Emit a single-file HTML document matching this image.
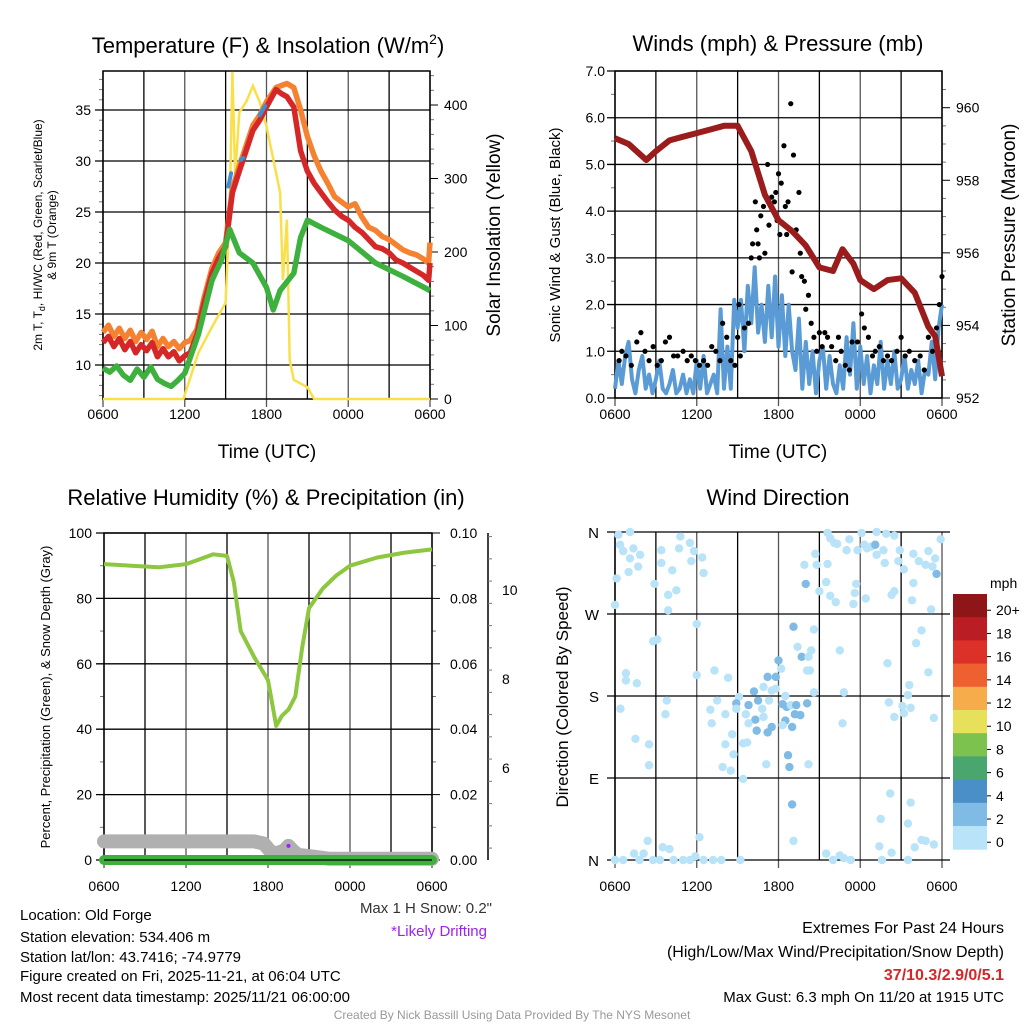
<!DOCTYPE html>
<html><head><meta charset="utf-8">
<style>
html,body{margin:0;padding:0;background:#fff;}
svg{display:block;font-family:"Liberation Sans",sans-serif;}
</style></head>
<body>
<svg id="c" width="1024" height="1024" viewBox="0 0 1024 1024" xmlns="http://www.w3.org/2000/svg">
<rect x="0" y="0" width="1024" height="1024" fill="#fff"/>
<text x="268" y="53" font-size="22" text-anchor="middle">Temperature (F) &amp; Insolation (W/m<tspan dy="-9" font-size="14">2</tspan><tspan dy="9">)</tspan></text>
<text x="778" y="51" font-size="22" text-anchor="middle">Winds (mph) &amp; Pressure (mb)</text>
<text x="266" y="505" font-size="22" text-anchor="middle">Relative Humidity (%) &amp; Precipitation (in)</text>
<text x="778" y="505" font-size="22" text-anchor="middle">Wind Direction</text>
<g id="layer"></g>
<g font-size="15">
<text x="20" y="920">Location: Old Forge</text>
<text x="20" y="942">Station elevation: 534.406 m</text>
<text x="20" y="962">Station lat/lon: 43.7416; -74.9779</text>
<text x="20" y="981">Figure created on Fri, 2025-11-21, at 06:04 UTC</text>
<text x="20" y="1002">Most recent data timestamp: 2025/11/21 06:00:00</text>
</g>
<text x="492" y="913" font-size="15" fill="#333" text-anchor="end">Max 1 H Snow: 0.2"</text>
<text x="487" y="936" font-size="15" fill="#a020f0" text-anchor="end">*Likely Drifting</text>
<g font-size="16" text-anchor="end">
<text x="1004" y="933">Extremes For Past 24 Hours</text>
<text x="1004" y="957">(High/Low/Max Wind/Precipitation/Snow Depth)</text>
<text x="1004" y="980" fill="#d62728" font-weight="bold">37/10.3/2.9/0/5.1</text>
<text x="1004" y="1002" font-size="15">Max Gust: 6.3 mph On 11/20 at 1915 UTC</text>
</g>
<text x="512" y="1019" font-size="12" fill="#999" text-anchor="middle">Created By Nick Bassill Using Data Provided By The NYS Mesonet</text>
</svg>
<script>
const timeTickLabels = ["0600","1200","1800","0000","0600"];
const tempTicks = [10,15,20,25,30,35];
const solarTicks = [0,100,200,300,400];
const windTicks = [0,1,2,3,4,5,6,7];
const presTicks = [952,954,956,958,960];
const rhTicks = [0,20,40,60,80,100];
const precipTicks = [0,0.02,0.04,0.06,0.08,0.10];
const snowTicks = [6,8,10];
const dirLabels = ["N","E","S","W","N"];

const tH = [0,0.4,0.8,1.2,1.6,2.0,2.4,2.8,3.2,3.6,4.0,4.4,4.8,5.2,5.6,6.0,6.4,6.9,7.4,8,8.5,9,9.5,10,10.5,11,11.5,12,12.7,13.1,13.5,14,14.5,15,15.5,16,16.5,17,17.5,18,18.5,19,19.5,20,20.5,21,21.5,22,22.5,23,23.5,23.9,24];
const tempRed = [12.2,12.8,11.8,12.6,11.5,12.3,11.2,12.0,11.4,12.2,10.8,11.6,10.8,11.3,10.4,10.9,11.2,13,16,19,20.5,21.6,26.9,29,31,33,34,35.3,37,36.6,36.3,35.3,31,29,27.8,26.9,26,25.2,24.6,24.2,23.5,23,22.3,21.6,21.4,21,20.3,20,19.6,19.2,18.8,18.3,20];
const tempOrange = [13.2,13.9,12.8,13.6,12.6,13.4,12.3,13.2,12.5,13.3,11.8,12.6,11.8,12.3,11.6,12.2,12.4,13.5,16.5,19.5,21,22,27.3,29.5,31.5,33.5,34.5,35.8,37.2,37.4,37.6,37.2,35,32.4,30.5,29,27.8,26.5,26,25.5,25.8,24.5,23.5,23.2,22.6,22.3,21.8,21.3,21,20.8,20.4,20,22];
const dewH = [0,0.5,1,1.5,2,2.5,3,3.5,4,4.5,5,5.5,6,7,8,8.7,9.3,10,11,12,12.5,13,14,14.5,15,16,18,20,22,24];
const dewGreen = [9.7,9.3,9.9,9.0,8.5,9.6,8.8,9.8,8.6,8.2,7.9,8.5,9.2,13,18.3,20.3,23.3,21,20,17.6,15.4,17.3,19,22.5,24.2,23.5,22.2,20,18.7,17.3];
const solH = [0,5.9,7,8,9,9.3,9.5,9.7,10,10.5,11,11.5,12,13,13.2,13.5,13.7,14,15,15.5,24];
const solar = [0,0,63,98,131,260,445,303,390,404,426,404,371,281,162,244,53,26,16,0,0];
const wcH = [9.2,9.4,10.1,10.3,11.5,11.9];
const wcVal = [27.5,28.8,30.1,30.3,34.5,35.4];

const presH = [0,1,2.3,3,4,5,6,7,8,9,10,11,12,13,14,15,16,16.7,17.5,18,19,20,21,22,23,23.5,24];
const pressure = [959.16,959.0,958.56,958.8,959.1,959.2,959.3,959.4,959.5,959.5,958.8,957.6,956.9,956.6,956.2,955.6,955.5,956.1,955.7,955.25,955.0,955.25,955.3,954.9,953.96,953.7,952.6];
const windSpeed = [0.2,0.8,0.3,0.9,1.2,0.4,0.1,0.6,0.9,0.2,0.5,0.1,0.4,0.8,0.2,0.1,0.3,0.6,0.1,0.2,0.5,0.1,
0.4,0.1,0.8,0.2,0.9,0.1,0.3,0.5,0.1,1.9,0.2,1.1,0.2,2.1,
1.5,2.1,1.0,2.4,1.6,2.8,1.4,2.0,1.2,2.4,1.3,2.6,1.1,2.2,0.9,2.0,
1.0,0.6,1.7,0.2,1.2,0.3,1.0,0.1,0.8,1.1,0.2,0.9,0.3,0.1,0.7,0.2,
1.3,0.5,1.6,0.2,1.1,0.3,0.9,0.1,0.7,0.3,1.2,0.2,0.8,0.3,1.0,0.2,
0.4,0.9,0.2,0.6,0.3,0.8,0.1,0.6,0.5,1.2,0.4,1.5,2.0];
const gustH = [0.3,0.5,0.8,1.2,1.6,1.9,2.2,2.5,2.8,3.1,3.4,3.7,4.0,4.3,4.6,5.0,5.3,5.6,5.9,6.2,6.5,6.8,7.1,7.4,7.7,7.9,8.2,8.5,8.8,9.0,9.1,9.2,9.5,9.8,
10.0,10.1,10.3,10.4,10.5,10.6,10.7,10.9,11.0,11.2,11.3,11.5,11.7,11.8,11.9,12.0,12.1,12.2,12.4,12.5,12.6,12.7,12.9,13.0,13.1,13.3,13.5,13.6,13.7,13.9,14.0,14.2,14.4,14.6,14.8,15.0,15.2,15.4,15.6,15.9,16.2,16.4,16.6,16.9,17.2,17.4,17.8,18.1,18.3,18.6,18.9,19.1,19.4,19.7,20.0,20.3,20.7,21.0,21.3,21.6,22.0,22.4,22.7,23.0,23.3,23.6,23.8,24.0];
const gustVal = [0.8,1.0,0.9,0.7,1.2,1.4,1.0,0.8,1.1,0.7,0.8,1.2,1.3,0.9,0.9,1.0,0.8,0.9,0.8,0.7,0.8,0.7,1.1,1.0,0.8,1.6,1.3,0.8,0.7,1.3,2.0,0.9,1.5,1.6,
3.0,3.3,4.2,3.6,3.3,3.0,3.9,4.1,3.1,5.0,3.7,4.3,4.2,4.4,3.8,4.8,3.5,4.6,5.4,4.1,3.5,4.2,6.3,2.7,5.2,3.6,4.4,3.1,2.6,2.5,1.9,2.2,1.6,1.3,1.0,1.4,1.1,1.4,1.3,1.1,0.8,1.3,1.0,0.7,0.6,1.2,1.2,1.8,1.5,1.3,0.9,1.0,1.1,0.8,0.9,0.8,1.0,1.3,0.9,1.0,0.8,0.9,0.6,1.3,1.0,1.5,2.0,2.6];

const rhH = [0,2,4,6,7,8,9,9.5,10,11,12,12.6,13,13.5,14,14.5,15,16,17,18,20,22,24];
const rh = [90.5,90,89.5,90.5,92,93.5,93,85,70,62,55,41,44,46,50,65,77,83,87,90,92.5,94,95];
const snowH = [0,11,11.7,12.3,12.8,13.2,13.5,13.8,14.2,15.5,16.5,24];
const snowDepth = [4.35,4.35,4.3,4.08,4.1,4.15,4.25,4.15,4.05,4.0,3.96,3.96];
const precipH = [0,24];
const precip = [0,0];

const wdH = [0.25,1.1,0.37,0.6,1.35,1.1,1.84,1.0,0.12,1.7,0.0,2.9,3.4,3.4,4.2,3.9,3.9,4.5,4.8,4.7,5.5,5.6,5.8,6.4,6.5,6.0,2.8,3.1,0.8,0.8,1.6,0.4,3.8,3.7,1.5,2.5,2.5,6.0,7.3,8.3,7.5,7.0,7.1,8.1,8.6,8.1,8.7,7.9,8.5,9.4,9.4,9.7,9.1,8.9,9.6,9.8,10.2,10.5,10.8,10.9,10.3,10.4,11.2,11.5,9.8,8.9,11.3,11.5,11.8,12.0,12.2,10.9,11.2,11.8,12.3,12.5,12.6,12.9,13.3,13.2,13.6,12.5,13.0,12.3,14.1,14.6,14.3,14.1,13.7,14.2,13.4,13.1,14.6,14.4,12.7,12.8,13.0,13.1,11.1,14.2,9.2,16.5,16.8,16.7,14.0,13.9,14.7,15.6,15.8,16.1,16.3,17.0,17.2,17.7,17.6,17.5,18.1,17.8,18.3,18.5,18.8,19.1,19.2,19.2,19.7,19.8,19.9,20.5,20.9,20.8,21.2,21.9,22.3,22.8,23.0,23.3,23.5,23.6,23.9,23.2,21.8,21.9,20.5,20.3,18.4,15.5,15.0,15.8,16.2,14.8,15.6,22.5,22.1,23.0,20.0,21.6,21.5,21.7,20.1,20.5,21.1,21.2,23.4,20.2,21.7,19.5,21.5,19.4,20.3,22.0,22.5,22.8,23.4,19.6,21.5,15.5,16.5,16.0,16.8,17.3,1.4,2.1,2.4,3.5,4.0,6.2,5.9,0.0,0.6,1.8,2.8,3.3,4.3,5.0,5.5,6.5,7.2,7.8];
const wdDir = [357,360,346,339,342,331,335,316,309,322,280,303,340,326,318,291,274,296,355,342,348,328,339,332,315,259,240,242,205,197,194,166,175,160,133,127,104,203,208,200,175,165,150,160,138,127,116,102,98,89,128,129,179,172,160,170,185,175,166,157,154,142,140,146,150,166,175,186,201,219,210,190,201,188,171,180,168,170,170,160,159,153,146,148,172,184,208,208,223,223,234,256,253,230,115,102,61,21,105,105,0,230,184,150,303,324,336,359,353,348,347,340,352,303,293,281,359,340,346,342,344,346,360,335,340,326,358,356,340,328,319,336,328,324,339,322,331,314,352,275,285,304,295,291,287,305,295,290,283,324,325,252,238,206,216,192,181,167,173,157,169,161,156,73,63,45,40,15,8,14,22,21,17,0,0,7,5,0,2,0,7,7,21,14,12,25,4,0,0,0,0,0,0,0,0,0,0,0];
const wdSpd = [1,1,1,1,1,1,1,1,1,1,1,1,1,1,1,1,1,1,1,1,1,1,1,1,1,1,1,1,1,1,1,1,1,1,1,1,1,1,1,1,1,1,1,1,1,1,1,1,1,1,1,1,1,3,1,3,3,3,1,1,3,3,3,3,1,1,1,1,3,3,1,1,3,1,3,1,3,1,3,3,3,3,3,1,3,1,1,1,3,1,1,3,1,1,3,3,3,1,1,1,1,1,1,1,3,1,1,1,1,1,1,1,1,1,1,1,1,1,1,1,1,3,1,1,1,1,1,1,1,1,1,1,1,1,1,1,1,3,1,1,1,1,1,1,1,1,1,1,1,1,1,1,1,1,1,1,1,1,1,1,1,1,1,1,1,1,1,1,1,1,1,1,1,1,1,1,1,1,1,1,1,1,1,1,1,1,1,1,1,1,1,1,1,1,1,1,1,1,1,1,1,1];
const cbLabels = ["20+","18","16","14","12","10","8","6","4","2","0"];
const cbColors = ["#8e1518","#bb1d24","#dc3128","#ef6030","#f6ac4a","#e6e05a","#7cc24f","#4aa66f","#4a8fc7","#80bbe5","#b8e3f8"];

const NS="http://www.w3.org/2000/svg";
const L=document.getElementById('layer');
function mk(tag,attrs,parent){const e=document.createElementNS(NS,tag);for(const k in attrs)e.setAttribute(k,attrs[k]);(parent||L).appendChild(e);return e;}
function txt(x,y,s,size,anchor,parent,extra){const t=mk('text',Object.assign({x:x,y:y,'font-size':size,'text-anchor':anchor||'middle'},extra||{}),parent);t.textContent=s;return t;}
function lin(d0,d1,r0,r1){return v=>r0+(v-d0)*(r1-r0)/(d1-d0);}
function pathFrom(xs,ys,fx,fy){return xs.map((v,i)=>(i?'L':'M')+fx(v).toFixed(1)+','+fy(ys[i]).toFixed(1)).join('');}

function panelFrame(x0,y0,x1,y1,name){
  const g=mk('g',{});
  
  
  for(let i=0;i<=8;i++){const x=x0+(x1-x0)*i/8;mk('line',{x1:x,y1:y0,x2:x,y2:y1+(i%2==0?8:0),stroke:i%2?'#000':'#555','stroke-width':1.3},g);}
  return g;
}
function timeLabels(x0,x1,y,name){
  const g=mk('g',{});
  
  
  timeTickLabels.forEach((s,i)=>txt(x0+(x1-x0)*i/4,y,s,14,'middle',g));
}
function leftAxis(x0,ticks,fy,fmt,name,labelX){
  const g=mk('g',{});
  
  
  ticks.forEach(v=>{txt(labelX,fy(v)+5,fmt(v),14,'end',g);});
}

(function(){
  const x0=103,x1=430,y0=71,y1=399;
  const fx=lin(0,24,x0,x1), fy=lin(10,35,365,110), fs=lin(0,400,399,105);
  panelFrame(x0,y0,x1,y1,'temp');
  const hg=mk('g',{});
  
  
  tempTicks.forEach(v=>{mk('line',{x1:x0-8,x2:x1,y1:fy(v),y2:fy(v),stroke:'#000','stroke-width':1.3},hg);});
  for(let v=7;v<=38;v++){if(v%5)mk('line',{x1:x0-4,x2:x0,y1:fy(v),y2:fy(v),stroke:'#777'},hg);}
  for(let v=0;v<=440;v+=20){mk('line',{x1:x1,x2:x1+(v%100?4:8),y1:fs(v),y2:fs(v),stroke:v%100?'#777':'#000'},hg);}
  mk('rect',{x:x0,y:y0,width:x1-x0,height:y1-y0,fill:'none',stroke:'#000','stroke-width':1.5});
  const ys=mk('path',{d:pathFrom(solH,solar,fx,fs),fill:'none',stroke:'#f9e04b','stroke-width':2.5});
  
  
  const po=mk('path',{d:pathFrom(tH,tempOrange,fx,fy),fill:'none',stroke:'#f58231','stroke-width':5.5,'stroke-linejoin':'round'});
  
  
  const pr=mk('path',{d:pathFrom(tH,tempRed,fx,fy),fill:'none',stroke:'#d62728','stroke-width':5.5,'stroke-linejoin':'round'});
  
  
  const pg=mk('path',{d:pathFrom(dewH,dewGreen,fx,fy),fill:'none',stroke:'#3db03d','stroke-width':5.5,'stroke-linejoin':'round'});
  
  
  for(let i=0;i<wcH.length;i+=2){
    const s=mk('line',{x1:fx(wcH[i]),y1:fy(wcVal[i]),x2:fx(wcH[i+1]),y2:fy(wcVal[i+1]),stroke:'#3d8fd1','stroke-width':4,'stroke-linecap':'round'});
    
    
  }
  leftAxis(x0,tempTicks,fy,v=>String(v),'temp-y-ticks',x0-12);
  const rg=mk('g',{});
  
  
  solarTicks.forEach(v=>txt(x1+14,fs(v)+5,String(v),14,'start',rg));
  timeLabels(x0,x1,419,'temp-x-ticks');
  txt(267,458,'Time (UTC)',19,'middle',null,{});
  const yl=mk('text',{x:0,y:0,'font-size':12,'text-anchor':'middle',transform:'translate(42,235) rotate(-90)'});
  
  
  yl.innerHTML='2m T, T<tspan dy="3" font-size="9">d</tspan><tspan dy="-3">, HI/WC (Red, Green, Scarlet/Blue)</tspan>';
  txt(0,0,'& 9m T (Orange)',12,'middle',null,{transform:'translate(56,235) rotate(-90)',});
  txt(0,0,'Solar Insolation (Yellow)',19,'middle',null,{transform:'translate(500,235) rotate(-90)',});
})();

(function(){
  const x0=615,x1=942,y0=71,y1=398;
  const fx=lin(0,24,x0,x1), fy=lin(0,7,y1,y0), fp=lin(952,960,398,107.7);
  panelFrame(x0,y0,x1,y1,'wind');
  const hg=mk('g',{});
  
  
  windTicks.forEach(v=>mk('line',{x1:x0-8,x2:x1,y1:fy(v),y2:fy(v),stroke:'#000','stroke-width':1.3},hg));
  for(let v=0.5;v<7;v+=1)mk('line',{x1:x0-4,x2:x0,y1:fy(v),y2:fy(v),stroke:'#777'},hg);
  for(let v=952;v<=960.8;v+=0.5){const maj=Math.abs(v-Math.round(v/2)*2)<0.01;mk('line',{x1:x1,x2:x1+(maj?8:4),y1:fp(v),y2:fp(v),stroke:maj?'#000':'#777'},hg);}
  mk('rect',{x:x0,y:y0,width:x1-x0,height:y1-y0,fill:'none',stroke:'#000','stroke-width':1.5});
  const wh=windSpeed.map((v,i)=>i*0.25);
  const pw=mk('path',{d:pathFrom(wh,windSpeed,fx,fy),fill:'none',stroke:'#5b9bd5','stroke-width':4,'stroke-linejoin':'round'});
  
  
  const gg=mk('g',{});
  
  
  gustH.forEach((h,i)=>{const c=mk('circle',{cx:fx(h),cy:fy(gustVal[i]),r:2.6,fill:'#000'},gg);});
  const pp=mk('path',{d:pathFrom(presH,pressure,fx,fp),fill:'none',stroke:'#9b1c1c','stroke-width':6,'stroke-linejoin':'round'});
  
  
  leftAxis(x0,windTicks,fy,v=>v.toFixed(1),'wind-y-ticks',x0-10);
  const rg=mk('g',{});
  
  
  presTicks.forEach(v=>txt(x1+14,fp(v)+5,String(v),14,'start',rg));
  timeLabels(x0,x1,419,'wind-x-ticks');
  txt(778,458,'Time (UTC)',19,'middle',null,{});
  txt(0,0,'Sonic Wind & Gust (Blue, Black)',15,'middle',null,{transform:'translate(560,235) rotate(-90)',});
  txt(0,0,'Station Pressure (Maroon)',19,'middle',null,{transform:'translate(1015,235) rotate(-90)',});
})();

(function(){
  const x0=104,x1=432,y0=533,y1=860;
  const fx=lin(0,24,x0,x1), fy=lin(0,100,y1,y0), fpr=lin(0,0.1,y1,y0), fsn=lin(6,10,768,590);
  panelFrame(x0,y0,x1,y1,'rh');
  const hg=mk('g',{});
  
  
  rhTicks.forEach(v=>mk('line',{x1:x0-8,x2:x1,y1:fy(v),y2:fy(v),stroke:'#000','stroke-width':1.3},hg));
  for(let v=10;v<100;v+=20)mk('line',{x1:x0-4,x2:x0,y1:fy(v),y2:fy(v),stroke:'#777'},hg);
  for(let v=0;v<=0.1001;v+=0.01){const maj=Math.round(v*100)%2==0;mk('line',{x1:x1,x2:x1+(maj?8:4),y1:fpr(v),y2:fpr(v),stroke:maj?'#000':'#777'},hg);}
  mk('rect',{x:x0,y:y0,width:x1-x0,height:y1-y0,fill:'none',stroke:'#000','stroke-width':1.5});
  const sa=mk('g',{});
  
  
  mk('line',{x1:488,x2:488,y1:y0,y2:y1,stroke:'#000','stroke-width':1.5},sa);
  for(let v=4.2;v<=11.3;v+=0.5){const maj=Math.abs(v-Math.round(v/2)*2)<0.01;mk('line',{x1:488,x2:488+(maj?8:4),y1:fsn(v),y2:fsn(v),stroke:maj?'#000':'#777'},sa);}
  snowTicks.forEach(v=>txt(502,fsn(v)+5,String(v),14,'start',sa));
  const ps=mk('path',{d:pathFrom(snowH,snowDepth,fx,fsn),fill:'none',stroke:'#b0b0b0','stroke-width':14,'stroke-linejoin':'round','stroke-linecap':'round'});
  
  
  const pg=mk('path',{d:pathFrom(precipH,precip,fx,fpr),fill:'none',stroke:'#3db03d','stroke-width':10,'stroke-linecap':'round'});
  
  
  mk('line',{x1:x0,x2:x1,y1:y1,y2:y1,stroke:'#000','stroke-width':1.2});
  const dr=mk('circle',{cx:fx(13.5),cy:fsn(4.25),r:2,fill:'#a020f0'});
  
  
  const prh=mk('path',{d:pathFrom(rhH,rh,fx,fy),fill:'none',stroke:'#8dc63f','stroke-width':4,'stroke-linejoin':'round'});
  
  
  leftAxis(x0,rhTicks,fy,v=>String(v),'rh-y-ticks',x0-12);
  const rg=mk('g',{});
  
  
  precipTicks.forEach(v=>txt(x1+18,fpr(v)+5,v.toFixed(2),14,'start',rg));
  timeLabels(x0,x1,891,'rh-x-ticks');
  txt(0,0,'Percent, Precipitation (Green), & Snow Depth (Gray)',13,'middle',null,{transform:'translate(50,697) rotate(-90)',});
})();

(function(){
  const x0=615,x1=942,y0=532,y1=860;
  const fx=lin(0,24,x0,x1), fy=lin(0,360,y1,y0);
  panelFrame(x0,y0,x1,y1,'direction');
  const hg=mk('g',{});
  
  
  dirLabels.forEach((s,i)=>{const y=fy(i*90);mk('line',{x1:x0-8,x2:x1+8,y1:y,y2:y,stroke:'#000','stroke-width':1.3},hg);txt(x0-16,y+6,s,15,'end',hg);});
  mk('line',{x1:x0,x2:x0,y1:y0,y2:y1,stroke:'#000','stroke-width':1.5});
  const colorFor=s=>cbColors[10-Math.min(10,Math.floor(s/2))];
  const pg=mk('g',{});
  
  
  wdH.forEach((h,i)=>{const c=mk('circle',{cx:fx(h),cy:fy(wdDir[i]),r:4.2,fill:colorFor(wdSpd[i])},pg);});
  timeLabels(x0,x1,891,'direction-x-ticks');
  txt(0,0,'Direction (Colored By Speed)',17,'middle',null,{transform:'translate(568,697) rotate(-90)',});
  const cb=mk('g',{});
  
  
  const top=594,h=23.2;
  cbColors.forEach((c,i)=>mk('rect',{x:953,y:top+i*h,width:34,height:h+0.5,fill:c},cb));
  txt(990,588,'mph',14,'start',cb);
  cbLabels.forEach((s,i)=>{mk('line',{x1:987,x2:991,y1:top+i*h+h*0.7,y2:top+i*h+h*0.7,stroke:'#000'},cb);txt(996,top+i*h+h*0.7+5,s,14,'start',cb);});
})();
</script>
</body></html>
